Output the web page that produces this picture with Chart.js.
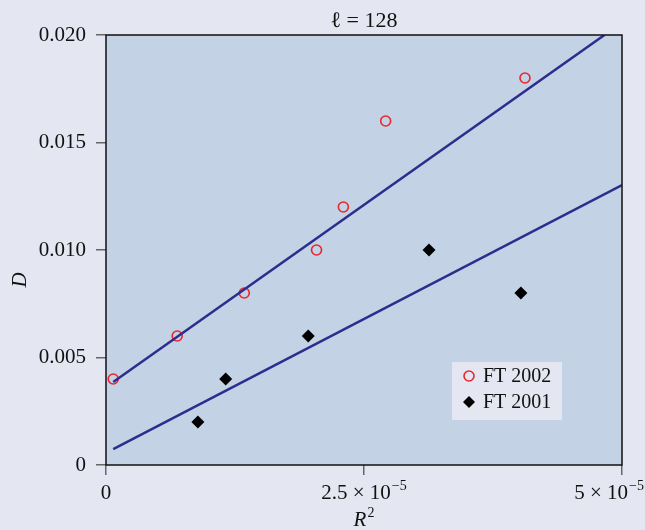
<!DOCTYPE html>
<html>
<head>
<meta charset="utf-8">
<script src="https://cdn.jsdelivr.net/npm/chart.js@4.4.1/dist/chart.umd.min.js"></script>
<style>
  html, body { margin: 0; padding: 0; background: #e4e6f1; }
  #wrap { width: 645px; height: 530px; }
</style>
</head>
<body>
<div id="wrap"><canvas id="myChart" width="645" height="530"></canvas></div>
<script>
// data
const ft2002R2 = [0.07e-5, 0.69e-5, 1.34e-5, 2.04e-5, 2.30e-5, 2.71e-5, 4.06e-5];
const ft2002D = [0.004, 0.006, 0.008, 0.010, 0.012, 0.016, 0.018];
const ft2001R2 = [0.89e-5, 1.16e-5, 1.96e-5, 3.13e-5, 4.02e-5];
const ft2001D = [0.002, 0.004, 0.006, 0.010, 0.008];
const fitUpperR2 = [0.07e-5, 4.83e-5];
const fitUpperD = [0.00386, 0.020];
const fitLowerR2 = [0.07e-5, 5.0e-5];
const fitLowerD = [0.00074, 0.01302];
const xTickValues = [0, 2.5e-5, 5e-5];
const xTickMantissa = ['0', '2.5 × 10', '5 × 10'];
const xTickExponent = ['', '−5', '−5'];
const titleText = 'ℓ = 128';

const pageBg = '#e4e6f1';
const plotBg = '#c3d3e5';
const fitColor = '#2d2d8e';
const serif = '"Liberation Serif", "Times New Roman", serif';

function toPoints(xs, ys) { return xs.map((x, i) => ({ x: x, y: ys[i] })); }

const extras = {
    id: 'extras',
    beforeDraw(chart) {
        const ctx = chart.ctx, a = chart.chartArea;
        ctx.save();
        ctx.fillStyle = pageBg;
        ctx.fillRect(0, 0, chart.width, chart.height);
        ctx.fillStyle = plotBg;
        ctx.fillRect(a.left, a.top, a.right - a.left, a.bottom - a.top);
        ctx.restore();
    },
    afterDraw(chart) {
        const ctx = chart.ctx, a = chart.chartArea;
        const xs = chart.scales.x;
        ctx.save();
        // frame
        ctx.strokeStyle = '#111';
        ctx.lineWidth = 1.5;
        ctx.strokeRect(a.left, a.top, a.right - a.left, a.bottom - a.top);

        ctx.fillStyle = '#111';
        // title
        ctx.font = '22px ' + serif;
        ctx.textAlign = 'center';
        ctx.textBaseline = 'alphabetic';
        ctx.fillText(titleText, (a.left + a.right) / 2, 27);

        // x tick labels with exponents, kept inside the canvas
        xTickValues.forEach((v, i) => {
            const px = xs.getPixelForValue(v);
            ctx.font = '21px ' + serif;
            const w1 = ctx.measureText(xTickMantissa[i]).width;
            ctx.font = '14px ' + serif;
            const w2 = xTickExponent[i] ? ctx.measureText(xTickExponent[i]).width + 1 : 0;
            let start = px - (w1 + w2) / 2;
            start = Math.min(start, chart.width - (w1 + w2) - 1);
            ctx.textAlign = 'left';
            ctx.font = '21px ' + serif;
            ctx.fillText(xTickMantissa[i], start, 499);
            if (xTickExponent[i]) {
                ctx.font = '14px ' + serif;
                ctx.fillText(xTickExponent[i], start + w1 + 1, 490);
            }
        });

        // axis titles
        const cx = (a.left + a.right) / 2;
        ctx.font = 'italic 21px ' + serif;
        const wR = ctx.measureText('R').width;
        ctx.textAlign = 'left';
        ctx.fillText('R', cx - (wR + 8) / 2, 526);
        ctx.font = '14px ' + serif;
        ctx.fillText('2', cx - (wR + 8) / 2 + wR + 1, 517);

        ctx.save();
        ctx.translate(26, 280);
        ctx.rotate(-Math.PI / 2);
        ctx.font = 'italic 21px ' + serif;
        ctx.textAlign = 'center';
        ctx.fillText('D', 0, 0);
        ctx.restore();

        // legend box
        const lx = 452, ly = 362;
        ctx.fillStyle = pageBg;
        ctx.fillRect(lx, ly, 110, 58);
        const items = chart.data.datasets.filter(d => d.inLegend);
        items.forEach((d, i) => {
            const y = ly + 14 + i * 26;
            ctx.beginPath();
            if (d.pointStyle === 'rectRot') {
                ctx.moveTo(lx + 17 - 6, y);
                ctx.lineTo(lx + 17, y - 6);
                ctx.lineTo(lx + 17 + 6, y);
                ctx.lineTo(lx + 17, y + 6);
                ctx.closePath();
                ctx.fillStyle = d.backgroundColor;
                ctx.fill();
            } else {
                ctx.arc(lx + 17, y, 5, 0, Math.PI * 2);
                ctx.strokeStyle = d.borderColor;
                ctx.lineWidth = 1.6;
                ctx.stroke();
            }
            ctx.fillStyle = '#111';
            ctx.font = '20px ' + serif;
            ctx.textAlign = 'left';
            ctx.textBaseline = 'middle';
            ctx.fillText(d.label, lx + 31, y + 1);
            ctx.textBaseline = 'alphabetic';
        });
        ctx.restore();
    }
};

const config = {
    type: 'scatter',
    data: {
        datasets: [{
            label: 'fit 2002',
            type: 'line',
            data: toPoints(fitUpperR2, fitUpperD),
            borderColor: fitColor,
            borderWidth: 2.5,
            pointRadius: 0,
            fill: false
        }, {
            label: 'fit 2001',
            type: 'line',
            data: toPoints(fitLowerR2, fitLowerD),
            borderColor: fitColor,
            borderWidth: 2.5,
            pointRadius: 0,
            fill: false
        }, {
            label: 'FT 2002',
            inLegend: true,
            data: toPoints(ft2002R2, ft2002D),
            pointStyle: 'circle',
            pointRadius: 5,
            backgroundColor: 'rgba(0,0,0,0)',
            borderColor: '#e8262e',
            borderWidth: 1.6
        }, {
            label: 'FT 2001',
            inLegend: true,
            data: toPoints(ft2001R2, ft2001D),
            pointStyle: 'rectRot',
            pointRadius: 6.5,
            backgroundColor: '#000',
            borderColor: '#000',
            borderWidth: 0
        }]
    },
    options: {
        responsive: false,
        animation: false,
        layout: { padding: { left: 0, top: 35, right: 23, bottom: 0 } },
        plugins: {
            legend: { display: false },
            tooltip: { enabled: false }
        },
        scales: {
            x: {
                type: 'linear',
                min: 0,
                max: 5e-5,
                afterBuildTicks: (scale) => { scale.ticks = xTickValues.map(v => ({ value: v })); },
                afterFit: (scale) => { scale.height = 65; },
                ticks: { callback: () => '', font: { size: 1 } },
                grid: { drawOnChartArea: false, tickLength: 10, color: '#666', lineWidth: 1.5 },
                border: { display: false }
            },
            y: {
                min: 0,
                max: 0.02,
                afterFit: (scale) => { scale.width = 106; },
                ticks: {
                    stepSize: 0.005,
                    padding: 10,
                    color: '#111',
                    font: { family: serif, size: 21 },
                    callback: (v) => v === 0 ? '0' : v.toFixed(3)
                },
                grid: { drawOnChartArea: false, tickLength: 10, color: '#666', lineWidth: 1.5 },
                border: { display: false }
            }
        }
    },
    plugins: [extras]
};

let myChart = new Chart(document.getElementById('myChart'), config);
</script>
</body>
</html>
